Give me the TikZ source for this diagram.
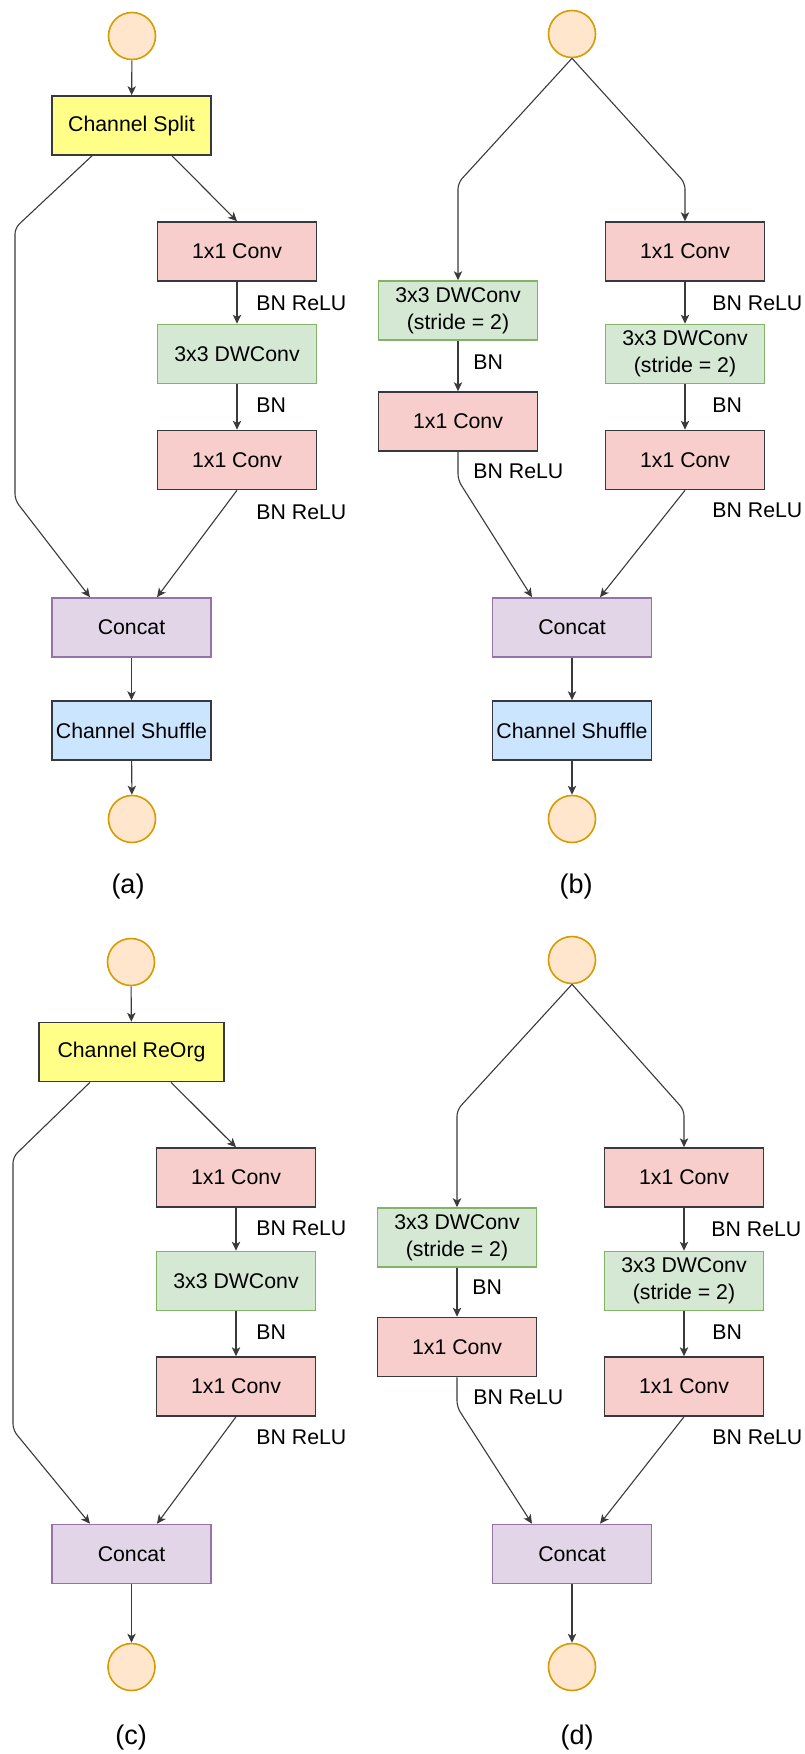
\documentclass[tikz,border=0pt]{standalone}
\usepackage{fontspec}
\setmainfont{Liberation Sans}
\usetikzlibrary{arrows.meta,calc}

\definecolor{termfill}{HTML}{FFE6CC}
\definecolor{termline}{HTML}{D79B00}
\definecolor{yelfill}{HTML}{FFFF88}
\definecolor{darkline}{HTML}{36393D}
\definecolor{pinkfill}{HTML}{F8CECC}
\definecolor{grnfill}{HTML}{D5E8D4}
\definecolor{grnline}{HTML}{82B366}
\definecolor{purfill}{HTML}{E1D5E7}
\definecolor{purline}{HTML}{9673A6}
\definecolor{blufill}{HTML}{CCE5FF}
\definecolor{wire}{HTML}{3A3A3A}

\tikzset{
  term/.style={circle, fill=termfill, draw=termline, line width=0.8pt, minimum size=23.5pt, inner sep=0pt},
  blk/.style={rectangle, line width=0.8pt, minimum width=79.5pt, minimum height=29.5pt, inner sep=0pt, align=center},
  splitbox/.style={blk, fill=yelfill, draw=darkline},
  convbox/.style={blk, fill=pinkfill, draw=darkline},
  dwbox/.style={blk, fill=grnfill, draw=grnline},
  catbox/.style={blk, fill=purfill, draw=purline},
  shufbox/.style={blk, fill=blufill, draw=darkline},
  lbl/.style={anchor=west, inner sep=0pt},
  caption/.style={font=\fontsize{13.5}{15}\selectfont, inner sep=0pt},
  conn/.style={draw=wire, line width=0.55pt, -{Stealth[length=4.5pt,width=4.2pt,inset=1.2pt]}},
  bent/.style={conn, rounded corners=3pt},
}

\begin{document}
\begin{tikzpicture}[x=0.5pt, y=-0.5pt, font=\fontsize{10.65}{13.3}\selectfont]
\useasboundingbox (0,0) rectangle (804,1754);

% ---------------- unit (a): basic unit with channel split ----------------
\node[term] (inA) at (132,36) {};
\node[splitbox] (splitA) at (131.5,125.5) {Channel Split};
\node[convbox] (c1A) at (237,251.5) {1x1 Conv};
\node[dwbox] (dwA) at (237,354) {3x3 DWConv};
\node[convbox] (c2A) at (237,460) {1x1 Conv};
\node[catbox] (catA) at (131.5,627.5) {Concat};
\node[shufbox] (shufA) at (131.5,730.5) {Channel Shuffle};
\node[term] (outA) at (132,819) {};
\node[caption] (capA) at (128,887) {(a)};

\node[lbl] (lA1) at (256,303) {BN ReLU};
\node[lbl] (lA2) at (256,405) {BN};
\node[lbl] (lA3) at (256,512) {BN ReLU};

\coordinate (bA1) at (15,228);
\coordinate (bA2) at (15,500);
\draw[conn] (inA) -- (splitA);
\draw[bent] ($(splitA.south)+(-39.5,0)$) -- (bA1) -- (bA2) -- ($(catA.north)+(-41.5,0)$);
\draw[conn] ($(splitA.south)+(40.5,0)$) -- (c1A.north);
\draw[conn] (c1A) -- (dwA);
\draw[conn] (dwA) -- (c2A);
\draw[conn] (c2A.south) -- ($(catA.north)+(25.5,0)$);
\draw[conn] (catA) -- (shufA);
\draw[conn] (shufA) -- (outA);

% ---------------- unit (b): down-sampling unit ----------------
\node[term] (inB) at (572,34) {};
\node[dwbox] (dwB1) at (458,310.5) {3x3 DWConv\\(stride = 2)};
\node[convbox] (c1B1) at (458,421.5) {1x1 Conv};
\node[convbox] (c1B2) at (685,251.5) {1x1 Conv};
\node[dwbox] (dwB2) at (685,354) {3x3 DWConv\\(stride = 2)};
\node[convbox] (c2B2) at (685,460) {1x1 Conv};
\node[catbox] (catB) at (572,627.5) {Concat};
\node[shufbox] (shufB) at (572,730.5) {Channel Shuffle};
\node[term] (outB) at (572,819) {};
\node[caption] (capB) at (576,887) {(b)};

\node[lbl] (lB1) at (473,362) {BN};
\node[lbl] (lB2) at (473,471) {BN ReLU};
\node[lbl] (lB3) at (712,303) {BN ReLU};
\node[lbl] (lB4) at (712,405) {BN};
\node[lbl] (lB5) at (712,510) {BN ReLU};

\coordinate (bB1) at (458,183);
\coordinate (bB2) at (685,183);
\coordinate (bB3) at (458,480);
\draw[bent] (inB.south) -- (bB1) -- (dwB1.north);
\draw[bent] (inB.south) -- (bB2) -- (c1B2.north);
\draw[conn] (dwB1) -- (c1B1);
\draw[bent] (c1B1.south) -- (bB3) -- ($(catB.north)+(-40,0)$);
\draw[conn] (c1B2) -- (dwB2);
\draw[conn] (dwB2) -- (c2B2);
\draw[conn] (c2B2.south) -- ($(catB.north)+(28,0)$);
\draw[conn] (catB) -- (shufB);
\draw[conn] (shufB) -- (outB);

% ---------------- unit (c): basic unit with channel reorganisation ----------------
\node[term] (inC) at (131,962) {};
\node[splitbox, minimum width=92.5pt] (orgC) at (131.5,1052) {Channel ReOrg};
\node[convbox] (c1C) at (236,1177.5) {1x1 Conv};
\node[dwbox] (dwC) at (236,1281) {3x3 DWConv};
\node[convbox] (c2C) at (236,1386.5) {1x1 Conv};
\node[catbox] (catC) at (131.5,1554) {Concat};
\node[term] (outC) at (131.5,1667) {};
\node[caption] (capC) at (131,1737) {(c)};

\node[lbl] (lC1) at (256,1228) {BN ReLU};
\node[lbl] (lC2) at (256,1332) {BN};
\node[lbl] (lC3) at (256,1437) {BN ReLU};

\coordinate (bC1) at (13,1157);
\coordinate (bC2) at (13,1430);
\draw[conn] (inC) -- (orgC);
\draw[bent] ($(orgC.south)+(-41.5,0)$) -- (bC1) -- (bC2) -- ($(catC.north)+(-41.5,0)$);
\draw[conn] ($(orgC.south)+(39.5,0)$) -- (c1C.north);
\draw[conn] (c1C) -- (dwC);
\draw[conn] (dwC) -- (c2C);
\draw[conn] (c2C.south) -- ($(catC.north)+(25.5,0)$);
\draw[conn] (catC) -- (outC);

% ---------------- unit (d): down-sampling unit without shuffle ----------------
\node[term] (inD) at (572,960) {};
\node[dwbox] (dwD1) at (457,1237.5) {3x3 DWConv\\(stride = 2)};
\node[convbox] (c1D1) at (457,1347) {1x1 Conv};
\node[convbox] (c1D2) at (684,1177.5) {1x1 Conv};
\node[dwbox] (dwD2) at (684,1281) {3x3 DWConv\\(stride = 2)};
\node[convbox] (c2D2) at (684,1386.5) {1x1 Conv};
\node[catbox] (catD) at (572,1554) {Concat};
\node[term] (outD) at (572,1667) {};
\node[caption] (capD) at (577,1737) {(d)};

\node[lbl] (lD1) at (472,1287) {BN};
\node[lbl] (lD2) at (473,1397) {BN ReLU};
\node[lbl] (lD3) at (711,1229) {BN ReLU};
\node[lbl] (lD4) at (712,1332) {BN};
\node[lbl] (lD5) at (712,1437) {BN ReLU};

\coordinate (bD1) at (457,1110);
\coordinate (bD2) at (684,1110);
\coordinate (bD3) at (457,1407);
\draw[bent] (inD.south) -- (bD1) -- (dwD1.north);
\draw[bent] (inD.south) -- (bD2) -- (c1D2.north);
\draw[conn] (dwD1) -- (c1D1);
\draw[bent] (c1D1.south) -- (bD3) -- ($(catD.north)+(-40,0)$);
\draw[conn] (c1D2) -- (dwD2);
\draw[conn] (dwD2) -- (c2D2);
\draw[conn] (c2D2.south) -- ($(catD.north)+(28,0)$);
\draw[conn] (catD) -- (outD);
\end{tikzpicture}
\end{document}
